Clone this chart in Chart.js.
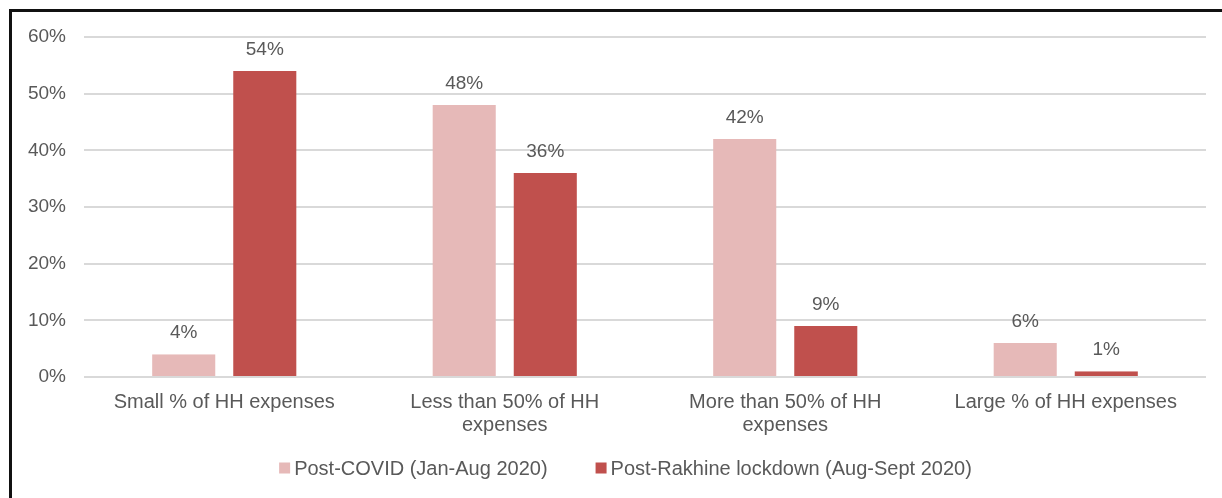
<!DOCTYPE html>
<html>
<head>
<meta charset="utf-8">
<script src="https://cdn.jsdelivr.net/npm/chart.js@4/dist/chart.umd.min.js"></script>
<style>
  html, body { margin: 0; padding: 0; background: #ffffff; overflow: hidden; }
  #wrap { position: relative; width: 1222px; height: 498px; }
  #chart { position: absolute; left: 0; top: 0; }
  #frame {
    position: absolute; left: 9px; top: 9px; width: 1400px; height: 700px;
    border-left: 3px solid #111111; border-top: 3px solid #111111;
    pointer-events: none;
  }
</style>
</head>
<body>
<div id="wrap">
  <canvas id="chart" width="1222" height="498"></canvas>
  <div id="frame"></div>
</div>
<script>
// Share of household expenses covered, by period
const categories = [
  'Small % of HH expenses',
  ['Less than 50% of HH', 'expenses'],
  ['More than 50% of HH', 'expenses'],
  'Large % of HH expenses'
];
const seriesNames = ['Post-COVID (Jan-Aug 2020)', 'Post-Rakhine lockdown (Aug-Sept 2020)'];
const postCovid = [4, 48, 42, 6];
const postRakhine = [54, 36, 9, 1];
const yTicks = [0, 10, 20, 30, 40, 50, 60];

const seriesColors = ['#E6B9B8', '#C0504D'];
const textColor = '#595959';
const fontFamily = '"Liberation Sans", Arial, sans-serif';

// value labels above each bar
const valueLabels = {
  id: 'valueLabels',
  afterDatasetsDraw(chart) {
    const ctx = chart.ctx;
    ctx.save();
    ctx.font = '19px ' + fontFamily;
    ctx.fillStyle = textColor;
    ctx.textAlign = 'center';
    ctx.textBaseline = 'alphabetic';
    chart.data.datasets.forEach((ds, i) => {
      const meta = chart.getDatasetMeta(i);
      meta.data.forEach((bar, j) => {
        ctx.fillText(Math.round(ds.data[j]) + '%', bar.x, bar.y - 16);
      });
    });
    ctx.restore();
  }
};

// legend row under the axis labels
const bottomLegend = {
  id: 'bottomLegend',
  afterDraw(chart) {
    const ctx = chart.ctx;
    ctx.save();
    ctx.font = '20px ' + fontFamily;
    const box = 11, gapText = 4, gapItem = 48, cy = 468, centerX = 625.5;
    const items = chart.data.datasets.map(ds => ({
      label: ds.label, color: ds.backgroundColor,
      w: box + gapText + ctx.measureText(ds.label).width
    }));
    const total = items.reduce((s, it) => s + it.w, 0) + gapItem * (items.length - 1);
    let x = centerX - total / 2;
    ctx.textBaseline = 'middle';
    ctx.textAlign = 'left';
    items.forEach(it => {
      ctx.fillStyle = it.color;
      ctx.fillRect(x, cy - box / 2, box, box);
      ctx.fillStyle = textColor;
      ctx.fillText(it.label, x + box + gapText, cy + 1);
      x += it.w + gapItem;
    });
    ctx.restore();
  }
};

new Chart(document.getElementById('chart'), {
  type: 'bar',
  data: {
    labels: categories,
    datasets: [
      {
        label: seriesNames[0], data: postCovid,
        backgroundColor: seriesColors[0],
        borderColor: 'rgba(0,0,0,0)',
        borderWidth: { left: 9, right: 9, top: 0, bottom: 0 },
        borderSkipped: false
      },
      {
        label: seriesNames[1], data: postRakhine,
        backgroundColor: seriesColors[1],
        borderColor: 'rgba(0,0,0,0)',
        borderWidth: { left: 9, right: 9, top: 0, bottom: 0 },
        borderSkipped: false
      }
    ]
  },
  options: {
    responsive: false,
    animation: false,
    devicePixelRatio: 1,
    layout: { padding: { left: 0, right: 16, top: 37, bottom: 0 } },
    datasets: { bar: { categoryPercentage: 0.578, barPercentage: 1.0 } },
    plugins: {
      legend: { display: false },
      tooltip: { enabled: false }
    },
    scales: {
      x: {
        grid: { display: false },
        border: { display: false },
        ticks: {
          color: textColor,
          font: { family: fontFamily, size: 20, lineHeight: 1.15 },
          padding: 6,
          maxRotation: 0,
          autoSkip: false
        },
        afterFit(scale) { scale.height = 121; }
      },
      y: {
        min: 0, max: 60,
        afterBuildTicks(scale) { scale.ticks = yTicks.map(v => ({ value: v })); },
        grid: { color: '#D9D9D9', lineWidth: 2, drawTicks: false },
        border: { display: false },
        ticks: {
          color: textColor,
          font: { family: fontFamily, size: 19 },
          padding: 18,
          callback: v => v + '%'
        },
        afterFit(scale) { scale.width = 84; }
      }
    }
  },
  plugins: [valueLabels, bottomLegend]
});
</script>
</body>
</html>
